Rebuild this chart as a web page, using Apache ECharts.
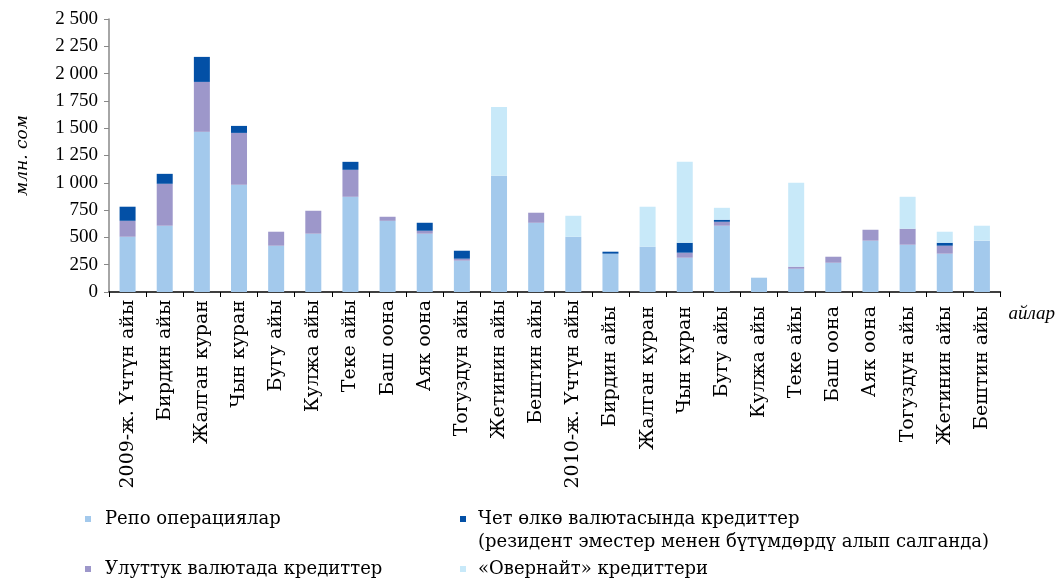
<!DOCTYPE html>
<html>
<head>
<meta charset="utf-8">
<script src="https://cdn.jsdelivr.net/npm/echarts@6/dist/echarts.min.js"></script>
<style>
  html, body { margin: 0; padding: 0; background: #fff; }
  #chart { width: 1056px; height: 581px; }
</style>
</head>
<body>
<div id="chart"></div>
<script>
// айлар
var months = ['2009-ж. Үчтүн айы', 'Бирдин айы', 'Жалган куран', 'Чын куран', 'Бугу айы', 'Кулжа айы',
    'Теке айы', 'Баш оона', 'Аяк оона', 'Тогуздун айы', 'Жетинин айы', 'Бештин айы',
    '2010-ж. Үчтүн айы', 'Бирдин айы ', 'Жалган куран ', 'Чын куран ', 'Бугу айы ', 'Кулжа айы ',
    'Теке айы ', 'Баш оона ', 'Аяк оона ', 'Тогуздун айы ', 'Жетинин айы ', 'Бештин айы '];

// млн. сом
var repo     = [506, 607, 1467, 982, 424, 534, 872, 652, 534, 287, 1064, 634, 506, 351, 415, 314, 607, 131, 213, 268, 470, 433, 351, 470];
var national = [146, 384, 457, 475, 128, 210, 247, 37, 27, 18, 0, 92, 0, 0, 0, 46, 36, 0, 19, 55, 100, 146, 73, 0];
var foreign  = [129, 91, 229, 64, 0, 0, 73, 0, 73, 73, 0, 0, 0, 18, 0, 91, 19, 0, 0, 0, 0, 0, 27, 0];
var overnight = [0, 0, 0, 0, 0, 0, 0, 0, 0, 0, 631, 0, 192, 0, 366, 741, 109, 0, 768, 0, 0, 293, 101, 137];

var yTicks = [0, 250, 500, 750, 1000, 1250, 1500, 1750, 2000, 2250, 2500];

var names = ['Репо операциялар', 'Улуттук валютада кредиттер', 'Чет өлкө валютасында кредиттер', '«Овернайт» кредиттери'];
var colors = ['#a3c9ec', '#9d97ca', '#0350a6', '#c8e9f9'];

var font = 'Liberation Serif, Times New Roman, serif';
var wide = 'DejaVu Serif, serif';

function fmt(v) {
    return String(v).replace(/\B(?=(\d{3})+(?!\d))/g, ' ');
}

var myChart = echarts.init(document.getElementById('chart'));

var series = [repo, national, foreign, overnight].map(function (d, i) {
    return {
        name: names[i],
        type: 'bar',
        stack: 'total',
        barWidth: 16,
        itemStyle: { color: colors[i] },
        data: d
    };
});

// легенда: бир элемент - бир legend
var legendPos = [[85, 510], [85, 560], [460, 510], [460, 560]];
var legendGap = [9, 9, 7, 7];
var legends = names.map(function (n, i) {
    return {
        orient: 'vertical',
        left: legendPos[i][0], top: legendPos[i][1],
        padding: 0,
        itemWidth: 6, itemHeight: 6,
        icon: 'rect',
        selectedMode: false,
        formatter: function (name) { return '{t|' + name + '}'; },
        textStyle: {
            fontFamily: wide, fontSize: 18, color: '#000',
            rich: { t: { fontFamily: wide, fontSize: 18, color: '#000', padding: [0, 0, 0, legendGap[i]] } }
        },
        data: [n]
    };
});

var option = {
    animation: false,
    textStyle: { fontFamily: font },
    grid: { left: 109, right: 51, top: 19, bottom: 289, containLabel: false },
    legend: legends,
    graphic: [{
        type: 'text',
        left: 478, top: 533,
        style: { text: '(резидент эместер менен бүтүмдөрдү алып салганда)', font: '18px ' + wide, fill: '#000' }
    }],
    xAxis: {
        type: 'category',
        data: months,
        name: 'айлар',
        nameLocation: 'end',
        nameGap: 8,
        nameTextStyle: { fontFamily: font, fontStyle: 'italic', fontSize: 19, color: '#000', verticalAlign: 'top', padding: [12, 0, 0, 0] },
        axisLine: { lineStyle: { color: '#000', width: 1.5 } },
        axisTick: { show: true, length: 5, lineStyle: { color: '#000' } },
        axisLabel: { rotate: 90, interval: 0, fontSize: 19, color: '#000', fontFamily: wide, margin: 8 }
    },
    yAxis: {
        type: 'value',
        min: 0, max: 2500, interval: 250,
        name: 'млн. сом',
        nameLocation: 'middle',
        nameRotate: 90,
        nameGap: 78,
        nameTextStyle: { fontFamily: wide, fontStyle: 'italic', fontSize: 17, color: '#000' },
        splitLine: { show: false },
        axisLine: { show: true, lineStyle: { color: '#888', width: 1.5 } },
        axisTick: { show: true, length: 5, lineStyle: { color: '#888' } },
        axisLabel: {
            fontSize: 19, color: '#000', fontFamily: font, margin: 11,
            formatter: function (v) { return yTicks.indexOf(v) >= 0 ? fmt(v) : ''; }
        }
    },
    series: series
};

myChart.setOption(option);
</script>
</body>
</html>
